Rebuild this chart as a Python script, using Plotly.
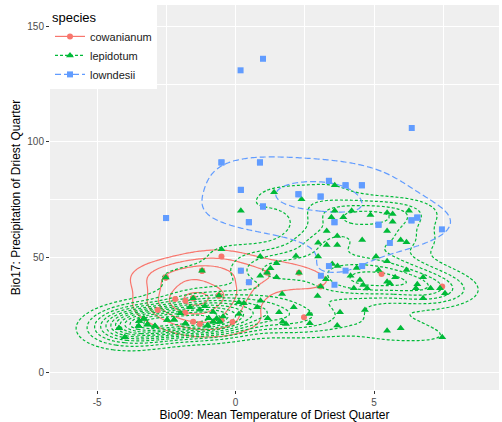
import numpy as np
import plotly.graph_objects as go

# ---------------- data ----------------
species = ["cowanianum", "lepidotum", "lowndesii"]

cow_x = [-0.51, -2.18, -1.81, -2.81, -1.82, -1.53, -1.29, -0.51, -0.11, 2.47, 5.27, 7.46,
         # points hidden under other markers (estimated)
         -2.52, -2.52, -2.52, -1.21, -1.21, -1.21, -0.60, -0.60, -0.60, -1.53, -1.53, -1.53,
         0.19, 0.48, 1.14, 2.29, 3.07]
cow_y = [50.3, 31.9, 31.2, 27.2, 26.0, 22.1, 21.1, 22.8, 22.0, 24.0, 42.8, 37.3,
         41.2, 41.2, 41.2, 44.2, 44.2, 44.2, 33.4, 33.4, 33.4, 32.2, 32.2, 32.2,
         44.2, 39.2, 43.3, 43.3, 37.3]

lep_x = [-2.52, -3.48, -3.31, -3.50, -3.18, -2.91, -4.21, -4.00, -2.47, -2.22, -2.00, -1.81,
         0.19, -0.51, -1.21, 0.89, 0.89, 1.14, 1.26, 1.48, 1.48, 2.18, 2.98, 2.29, 3.26, 3.07,
         2.96, 1.68, -1.53, -0.60, 0.12, 0.30, 0.90, 0.78, 1.57, 2.10, 1.16, 1.70, 1.82, 2.66,
         2.68, -1.11, -0.81, -1.29, -1.65, -0.97, -0.68, -0.45, -0.57, -0.81, -1.01, 0.12,
         1.39, 2.38, 3.58, 3.58, 4.19, 3.46, 3.89, 4.87, 5.47, 5.67, 5.67, 6.26, 3.29, 3.67,
         4.57, 5.47, 5.96, 6.17, 2.98, 3.29, 3.67, 5.07, 5.47, 3.49, 3.68, 4.37, 4.15, 4.49,
         4.61, 4.75, 4.27, 5.16, 5.47, 5.57, 5.76, 6.17, 6.77, 6.56, 6.51, 7.04, 7.38, 7.56,
         6.77, 3.77, 4.67, 3.67, 5.47, 5.96, 7.46,
         # overlapping duplicates in the dense lower-left cluster (estimated)
         -3.48, -3.31, -3.50, -3.18, -2.91, -2.47, -2.22, -1.81, -1.01, -0.81, -0.57, -0.97,
         -3.31, -3.18, -4.21, -4.00]
lep_y = [41.2, 22.4, 23.4, 20.2, 20.9, 20.2, 19.2, 15.3, 22.8, 22.9, 25.7, 21.3,
         70.2, 53.5, 44.2, 50.3, 42.0, 43.3, 45.2, 47.4, 41.3, 50.6, 50.3, 43.3, 40.5, 37.3,
         33.2, 34.1, 32.2, 33.4, 30.5, 30.1, 31.2, 28.3, 26.2, 28.3, 23.6, 22.1, 21.1, 25.4,
         21.4, 28.8, 26.3, 27.3, 28.4, 23.6, 23.6, 24.3, 22.1, 22.1, 20.4, 25.4,
         78.2, 75.1, 81.2, 70.2, 70.2, 67.3, 67.3, 68.3, 69.3, 68.8, 65.4, 70.2, 61.4, 59.2,
         57.5, 61.4, 57.5, 56.5, 56.3, 55.3, 55.3, 50.3, 48.3, 47.1, 46.2, 45.4, 42.0, 40.2,
         38.0, 36.6, 36.6, 44.5, 39.4, 38.7, 41.3, 44.5, 41.3, 38.3, 36.6, 36.6, 36.6, 34.4,
         32.2, 26.2, 27.2, 20.4, 18.2, 19.2, 15.3,
         22.4, 23.4, 20.2, 20.9, 20.2, 22.8, 22.9, 21.3, 20.4, 22.1, 22.1, 23.6,
         23.4, 20.9, 19.2, 15.3]

low_x = [0.18, 0.99, 6.36, -0.51, 0.88, 0.19, 0.99, 0.48, -2.51, 3.37, 3.97, 4.56, 2.27,
         3.07, 3.57, 5.16, 6.35, 6.56, 7.45, 5.57, 3.37, 3.97, 4.57, 3.08, 3.57, 0.19, 0.48,
         # duplicated localities (hidden under identical markers, estimated)
         3.37, 3.97, 4.56, 2.27, 3.07, 0.99, 0.19, 3.57, 5.16, 6.35, 6.56,
         -0.51, 0.88, -2.51, 0.48]
low_y = [131.0, 136.0, 106.0, 91.1, 91.1, 79.2, 72.0, 65.2, 67.0, 83.1, 81.2, 81.2, 77.3,
         76.3, 65.2, 64.1, 66.0, 67.2, 62.1, 56.2, 46.2, 44.2, 46.2, 42.0, 38.1, 44.2, 39.2,
         83.1, 81.2, 81.2, 77.3, 76.3, 72.0, 79.2, 65.2, 64.1, 66.0, 67.2,
         91.1, 91.1, 67.0, 65.2]

# kernel standard deviations (x, y) used for each species' density
bandwidths = [(1.0, 5.0), (1.0, 4.5), (1.9, 9.5)]
n_breaks = 12

colors = ["#F8766D", "#00BA38", "#619CFF"]
dashes = ["solid", "3px,2px", "6px,3px"]
symbols = ["circle", "triangle-up", "square"]
msizes = [6, 7, 6]

x_ticks = [-5, 0, 5]
y_ticks = [0, 50, 100, 150]


def kde2d_count(x, y, gx, gy, hx, hy):
    """Gaussian kernel density scaled by the number of points ("count")."""
    x = np.asarray(x, float)
    y = np.asarray(y, float)
    ax = (gx[:, None] - x[None, :]) / hx
    ay = (gy[:, None] - y[None, :]) / hy
    kx = np.exp(-0.5 * ax ** 2) / np.sqrt(2 * np.pi)
    ky = np.exp(-0.5 * ay ** 2) / np.sqrt(2 * np.pi)
    return ky @ kx.T / (hx * hy)


def pretty_unit(zmax, n=10):
    cell = zmax / n
    U = 10 ** np.floor(np.log10(cell))
    unit = U
    h, h5 = 1.5, 0.5 + 1.5 * 1.5
    if 2 * U - cell < h * (cell - unit):
        unit = 2 * U
        if 5 * U - cell < h5 * (cell - unit):
            unit = 5 * U
            if 10 * U - cell < h * (cell - unit):
                unit = 10 * U
    return unit


gx = np.linspace(-7.5, 10.5, 181)
gy = np.linspace(-10, 165, 176)

data = [(cow_x, cow_y), (lep_x, lep_y), (low_x, low_y)]
dens = [kde2d_count(sx, sy, gx, gy, bx, by) for (sx, sy), (bx, by) in zip(data, bandwidths)]
zmax = max(z.max() for z in dens)
unit = pretty_unit(zmax, n_breaks)   # contour breaks shared by the whole layer

fig = go.Figure()

for z, c, d in zip(dens, colors, dashes):
    fig.add_trace(go.Contour(
        x=gx, y=gy, z=z,
        contours=dict(coloring="none", start=unit, end=np.floor(zmax / unit) * unit, size=unit),
        line=dict(color=c, dash=d, width=1.2, smoothing=1),
        showscale=False, hoverinfo="skip", showlegend=False,
    ))

for (sx, sy), c, s, ms in zip(data, colors, symbols, msizes):
    fig.add_trace(go.Scatter(
        x=sx, y=sy, mode="markers",
        marker=dict(color=c, symbol=s, size=ms, line=dict(width=0)),
        showlegend=False,
    ))

# legend keys
for name, c, d, s, ms in zip(species, colors, dashes, symbols, msizes):
    fig.add_trace(go.Scatter(
        x=[None], y=[None], mode="lines+markers", name=name,
        line=dict(color=c, dash=d, width=1.2),
        marker=dict(color=c, symbol=s, size=ms),
    ))

grid_c = "#FFFFFF"
fig.update_layout(
    width=502, height=422,
    margin=dict(l=50, r=3, t=5, b=32),
    paper_bgcolor="white",
    plot_bgcolor="#EFEFEF",
    font=dict(family="Liberation Sans, Arial, sans-serif", color="#000000"),
    legend=dict(
        x=0, y=1, xanchor="left", yanchor="top",
        bgcolor="white", borderwidth=0,
        title=dict(text="species", font=dict(size=13, color="#000")),
        font=dict(size=11, color="#1a1a1a"),
        itemwidth=30, tracegroupgap=0,
    ),
    xaxis=dict(
        range=[-6.7, 9.51], tickvals=x_ticks, ticktext=[str(v) for v in x_ticks],
        showgrid=True, gridcolor=grid_c, gridwidth=1.1, zeroline=False,
        ticks="outside", ticklen=3, tickcolor="#333333", tickwidth=1,
        tickfont=dict(size=10, color="#4D4D4D"),
        minor=dict(tickvals=[-2.5, 2.5, 7.5], showgrid=True, gridcolor=grid_c, gridwidth=0.5, ticks=""),
        title=dict(text="Bio09: Mean Temperature of Driest Quarter", font=dict(size=12), standoff=2),
        showline=False,
    ),
    yaxis=dict(
        range=[-7.5, 159.3], tickvals=y_ticks, ticktext=[str(v) for v in y_ticks],
        showgrid=True, gridcolor=grid_c, gridwidth=1.1, zeroline=False,
        ticks="outside", ticklen=3, tickcolor="#333333", tickwidth=1,
        tickfont=dict(size=10, color="#4D4D4D"),
        minor=dict(tickvals=[25, 75, 125], showgrid=True, gridcolor=grid_c, gridwidth=0.5, ticks=""),
        title=dict(text="Bio17: Precipitation of Driest Quarter", font=dict(size=12), standoff=4),
        showline=False,
    ),
)

fig.write_html("out.html")
